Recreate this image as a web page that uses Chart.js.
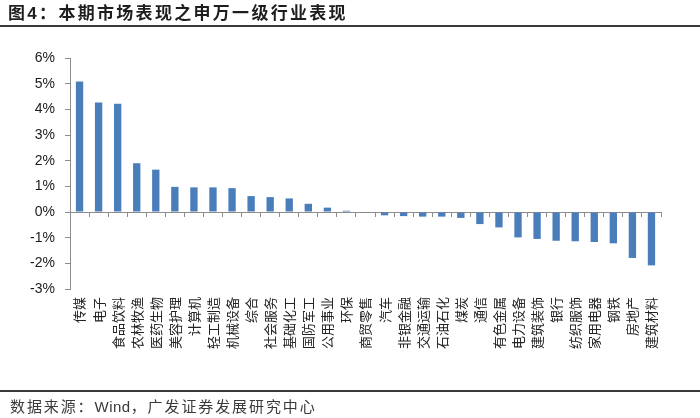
<!DOCTYPE html>
<html>
<head>
<meta charset="utf-8">
<script src="https://cdn.jsdelivr.net/npm/chart.js@4.4.1/dist/chart.umd.min.js"></script>
<style>
  html, body { margin: 0; padding: 0; background: #fff; }
  #wrap { position: relative; width: 700px; height: 418px; overflow: hidden; }
  #c { position: absolute; left: 0; top: 0; }
  #title { position: absolute; left: 8px; top: 1px; font-family: "Noto Sans CJK SC", sans-serif; font-weight: bold; font-size: 17px; letter-spacing: 2.3px; color: #1e1e1e; white-space: nowrap; line-height: 22px; }
  #title .num { font-family: "Liberation Sans", Arial, sans-serif; }
  #topline { position: absolute; left: 0; top: 25px; width: 700px; height: 2px; background: #3a3a3a; }
  #botline { position: absolute; left: 0; top: 390px; width: 700px; height: 2px; background: #3a3a3a; }
  #footer { position: absolute; left: 10px; top: 396px; font-family: "Noto Sans CJK SC", sans-serif; font-size: 15px; letter-spacing: 1.9px; color: #3a3a3a; white-space: nowrap; line-height: 20px; }
  #footer .lat { font-family: "Liberation Sans", Arial, sans-serif; letter-spacing: 0.5px; }
</style>
</head>
<body>
<div id="wrap">
  <canvas id="c" width="700" height="418"></canvas>
  <div id="title">图<span class="num">4</span>：本期市场表现之申万一级行业表现</div>
  <div id="topline"></div>
  <div id="botline"></div>
  <div id="footer">数据来源：<span class="lat">Wind</span>，广发证券发展研究中心</div>
</div>
<script>
const categories = ['传媒','电子','食品饮料','农林牧渔','医药生物','美容护理','计算机','轻工制造','机械设备','综合','社会服务','基础化工','国防军工','公用事业','环保','商贸零售','汽车','非银金融','交通运输','石油石化','煤炭','通信','有色金属','电力设备','建筑装饰','银行','纺织服饰','家用电器','钢铁','房地产','建筑材料'];
const returnsPct = [5.08, 4.27, 4.22, 1.90, 1.65, 0.98, 0.96, 0.96, 0.93, 0.62, 0.58, 0.53, 0.32, 0.17, 0.05, -0.03, -0.13, -0.16, -0.18, -0.18, -0.23, -0.47, -0.60, -0.99, -1.05, -1.12, -1.14, -1.17, -1.22, -1.79, -2.08];
const yTicks = [-3, -2, -1, 0, 1, 2, 3, 4, 5, 6];

const axisGray = '#8c8c8c';

new Chart(document.getElementById('c'), {
  type: 'bar',
  data: {
    labels: categories,
    datasets: [{
      data: returnsPct,
      backgroundColor: '#4a7ebb',
      borderWidth: 0,
      barPercentage: 0.385,
      categoryPercentage: 1.0,
      xAxisID: 'x',
      yAxisID: 'y'
    }]
  },
  options: {
    responsive: false,
    animation: false,
    devicePixelRatio: 1,
    layout: { padding: { left: 8, right: 39, top: 58, bottom: 69 } },
    plugins: { legend: { display: false }, tooltip: { enabled: false } },
    scales: {
      x: {
        type: 'category',
        position: 'bottom',
        offset: true,
        border: { display: false },
        grid: { display: false, drawTicks: false, offset: true },
        ticks: {
          autoSkip: false,
          minRotation: 90,
          maxRotation: 90,
          padding: 8,
          color: '#222',
          font: { family: '"Noto Sans CJK SC", sans-serif', size: 13 }
        },
        afterFit: (s) => { s.height = 60; }
      },
      x2: {
        type: 'category',
        labels: categories,
        position: { y: 0 },
        offset: true,
        border: { display: true, color: axisGray, width: 1 },
        grid: { display: true, drawOnChartArea: false, drawTicks: true, tickLength: 4, offset: true, color: axisGray },
        ticks: { display: false }
      },
      y: {
        type: 'linear',
        position: 'left',
        min: -3,
        max: 6,
        afterBuildTicks: (s) => { s.ticks = yTicks.map(v => ({ value: v })); },
        border: { display: true, color: axisGray, width: 1 },
        grid: { display: true, drawOnChartArea: false, drawTicks: true, tickLength: 5, color: axisGray },
        ticks: {
          padding: 10,
          color: '#1a1a1a',
          font: { family: '"Liberation Sans", Arial, sans-serif', size: 14 },
          callback: (v) => v + '%'
        },
        afterFit: (s) => { s.width = 62; }
      }
    }
  }
});
</script>
</body>
</html>
